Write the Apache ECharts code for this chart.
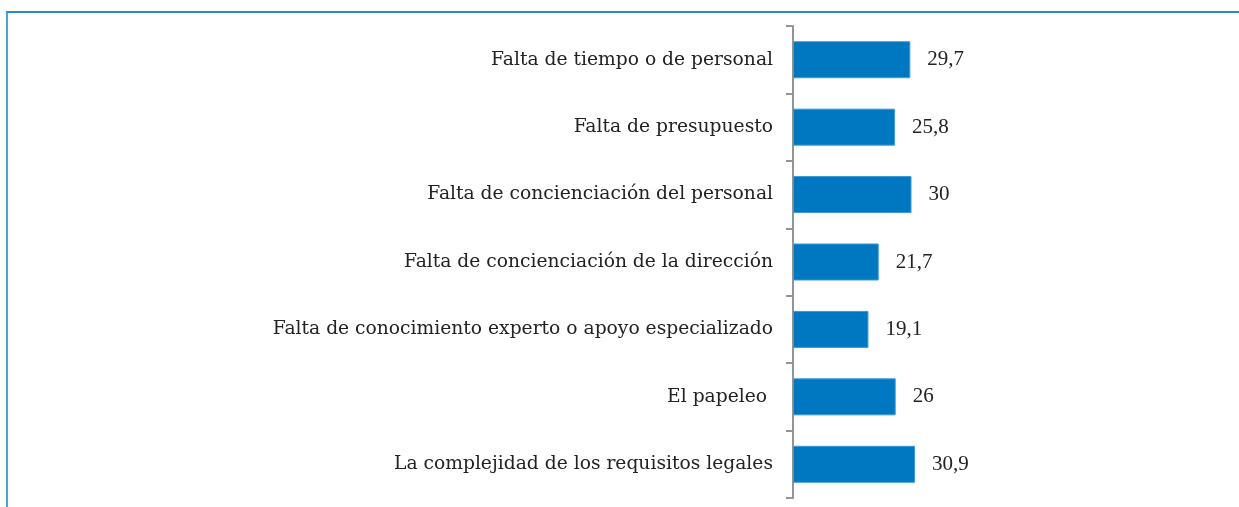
<!DOCTYPE html>
<html>
<head>
<meta charset="utf-8">
<script src="https://cdn.jsdelivr.net/npm/echarts@6/dist/echarts.min.js"></script>
<style>
  html, body { margin: 0; padding: 0; background: #fff; }
  #frame { position: absolute; left: 6px; top: 11px; width: 1300px; height: 600px;
           border-top: 2px solid #2a86c8; border-left: 2px solid #4ba3dc; box-sizing: border-box; }
  #chart { position: absolute; left: 0; top: 0; width: 1239px; height: 507px; }
</style>
</head>
<body>
<div id="frame"></div>
<div id="chart"></div>
<script>
// categorias (de arriba a abajo)
const categories = [
  'Falta de tiempo o de personal',
  'Falta de presupuesto',
  'Falta de concienciación del personal',
  'Falta de concienciación de la dirección',
  'Falta de conocimiento experto o apoyo especializado',
  'El papeleo ',
  'La complejidad de los requisitos legales'
]
const values = [29.7, 25.8, 30, 21.7, 19.1, 26, 30.9]

const chart = echarts.init(document.getElementById('chart'))

const option = {
  animation: false,
  grid: { left: 793, top: 26, width: 395, bottom: 9 },
  xAxis: {
    type: 'value',
    min: 0,
    max: 100,
    show: false
  },
  yAxis: {
    type: 'category',
    inverse: true,
    data: categories,
    axisLine: { show: true, lineStyle: { color: '#949494', width: 2 } },
    axisTick: { show: true, length: 7, lineStyle: { color: '#949494', width: 2 } },
    axisLabel: {
      margin: 20,
      color: '#222',
      fontFamily: 'DejaVu Serif',
      fontSize: 18.7,
      padding: [4, 0, 0, 0]
    }
  },
  series: [{
    type: 'bar',
    data: values,
    barWidth: 37,
    itemStyle: { color: '#0078c1', borderColor: '#3a9ad6', borderWidth: 1 },
    label: {
      show: true,
      position: 'right',
      distance: 17,
      color: '#222',
      fontFamily: 'Liberation Serif',
      fontSize: 21,
      padding: [3, 0, 0, 0],
      formatter: p => String(p.value).replace('.', ',')
    }
  }]
}

chart.setOption(option)
</script>
</body>
</html>
